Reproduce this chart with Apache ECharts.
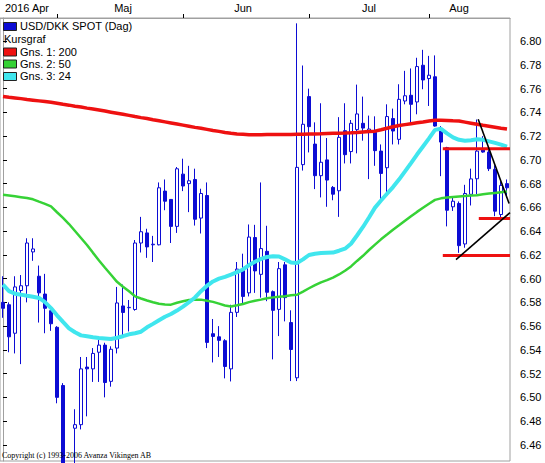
<!DOCTYPE html>
<html><head><meta charset="utf-8">
<script src="https://cdn.jsdelivr.net/npm/echarts@6/dist/echarts.min.js"></script>
<style>html,body{margin:0;padding:0;background:#fff}#c{width:545px;height:463px}</style>
</head><body><div id="c"></div>
<script>
// Trading days shown (category axis)
const categories = [
 '2016-04-19','2016-04-20','2016-04-21','2016-04-22','2016-04-25','2016-04-26','2016-04-27','2016-04-28','2016-04-29',
 '2016-05-02','2016-05-03','2016-05-04','2016-05-06','2016-05-09','2016-05-10','2016-05-11','2016-05-12','2016-05-13',
 '2016-05-16','2016-05-17','2016-05-18','2016-05-19','2016-05-20','2016-05-23','2016-05-24','2016-05-25','2016-05-26',
 '2016-05-27','2016-05-30','2016-05-31',
 '2016-06-01','2016-06-02','2016-06-03','2016-06-07','2016-06-08','2016-06-09','2016-06-10','2016-06-13','2016-06-14',
 '2016-06-15','2016-06-16','2016-06-17','2016-06-20','2016-06-21','2016-06-22','2016-06-23','2016-06-24','2016-06-27',
 '2016-06-28','2016-06-29','2016-06-30',
 '2016-07-04','2016-07-05','2016-07-06','2016-07-07','2016-07-08','2016-07-11','2016-07-12','2016-07-13','2016-07-14',
 '2016-07-15','2016-07-18','2016-07-19','2016-07-20','2016-07-21','2016-07-22','2016-07-25','2016-07-26','2016-07-27',
 '2016-07-28','2016-07-29',
 '2016-08-01','2016-08-02','2016-08-03','2016-08-04','2016-08-05','2016-08-08','2016-08-09','2016-08-10','2016-08-11',
 '2016-08-12','2016-08-15','2016-08-16','2016-08-17','2016-08-18'
];
const openVals = [6.580,6.578,6.554,6.590,6.594,6.6225,6.602,6.587,6.573,6.559,
 6.510,6.436,6.474,6.477,6.5255,6.524,6.538,6.544,6.5135,6.5415,
 6.577,6.5755,6.574,6.630,6.6385,6.6285,6.6285,6.6737,6.6667,6.644,
 6.688,6.680,6.6835,6.651,6.670,6.5536,6.551,6.5477,6.524,6.5716,
 6.6068,6.588,6.6346,6.6036,6.623,6.589,6.5741,6.6116,6.563,6.5165,
 6.696,6.7533,6.7133,6.6867,6.700,6.6768,6.674,6.7246,6.707,6.7255,
 6.7308,6.7246,6.7232,6.7074,6.6934,6.7348,6.7173,6.7496,6.7544,6.7488,
 6.7797,6.7685,6.770,6.7243,6.7103,6.6605,6.6633,6.6292,6.671,6.6841,
 6.7094,6.7066,6.692,6.654,6.680];
const closeVals = [6.575,6.551,6.593,6.594,6.630,6.625,6.588,6.575,6.562,6.500,
 6.440,6.430,6.477,6.524,6.524,6.537,6.544,6.5125,6.5405,6.5795,
 6.5715,6.5758,6.630,6.6395,6.6267,6.629,6.6765,6.6652,6.644,6.6925,
 6.678,6.6824,6.650,6.6717,6.5463,6.5513,6.548,6.526,6.5716,6.608,
 6.585,6.635,6.6065,6.6253,6.5885,6.5733,6.6084,6.584,6.5403,6.6937,
 6.730,6.728,6.6867,6.698,6.683,6.6711,6.719,6.7044,6.7308,6.7387,
 6.7268,6.726,6.7078,6.6886,6.7365,6.7243,6.751,6.754,6.7468,6.7786,
 6.7673,6.7713,6.7285,6.715,6.6576,6.6652,6.6278,6.6717,6.684,6.7074,
 6.7066,6.6926,6.6568,6.6785,6.6765];
const lowVals = [6.567,6.538,6.537,6.528,6.580,6.615,6.563,6.554,6.556,6.495,
 6.435,6.420,6.430,6.473,6.484,6.513,6.513,6.500,6.509,6.537,
 6.550,6.5555,6.573,6.622,6.6175,6.614,6.628,6.6576,6.630,6.6385,
 6.6737,6.656,6.6447,6.638,6.5415,6.5294,6.534,6.516,6.5134,6.5677,
 6.5795,6.585,6.588,6.584,6.581,6.532,6.5516,6.564,6.5137,6.5137,
 6.691,6.7063,6.6754,6.6684,6.6605,6.666,6.652,6.697,6.697,6.7055,
 6.7162,6.6838,6.695,6.6652,6.671,6.713,6.713,6.7468,6.730,6.7384,
 6.7595,6.7454,6.728,6.6863,6.644,6.657,6.6217,6.626,6.6616,6.671,
 6.706,6.6906,6.6526,6.650,6.668];
const highVals = [6.602,6.580,6.602,6.603,6.634,6.634,6.611,6.604,6.574,6.560,
 6.512,6.440,6.490,6.534,6.534,6.5415,6.5485,6.546,6.543,6.593,
 6.595,6.582,6.6325,6.652,6.642,6.636,6.681,6.6835,6.667,6.694,
 6.701,6.695,6.6926,6.6757,6.681,6.566,6.560,6.549,6.578,6.614,
 6.621,6.6456,6.6453,6.681,6.6445,6.590,6.614,6.614,6.5733,6.815,
 6.7795,6.760,6.7316,6.7477,6.7184,6.678,6.736,6.7477,6.7336,6.7634,
 6.7533,6.7373,6.7367,6.713,6.7468,6.7432,6.7637,6.775,6.777,6.786,
 6.7927,6.7876,6.788,6.7285,6.711,6.668,6.665,6.679,6.6926,6.734,
 6.720,6.709,6.6954,6.682,6.6835];
// Moving averages
const ma200 = [6.7533,6.7527,6.7522,6.7516,6.7509,6.7503,6.7497,6.7491,6.7485,
 6.7477,6.7468,6.7461,6.7452,6.7445,6.7436,6.7428,6.7420,6.7411,6.7402,
 6.7393,6.7384,6.7375,6.7365,6.7356,6.7348,6.7338,6.7329,6.7320,6.7311,
 6.7302,6.7293,6.7284,6.7274,6.7266,6.7257,6.7248,6.7240,6.7231,6.7224,
 6.7219,6.7216,6.7212,6.7211,6.7212,6.7213,6.7213,6.7214,6.7214,6.7214,
 6.7215,6.7216,6.7218,6.7219,6.7220,6.7222,6.7224,6.7225,6.7226,6.7228,
 6.7231,6.7235,6.7239,6.7242,6.7254,6.7267,6.7279,6.7289,6.7297,6.7305,
 6.7312,6.7319,6.7327,6.7334,6.7333,6.7332,6.7329,6.7327,6.7318,6.7309,
 6.7300,6.7291,6.7283,6.7275,6.7267,6.7260];
const ma50 = [6.6706,6.6700,6.6693,6.6686,6.6679,6.6668,6.6648,6.6629,6.6608,
 6.6559,6.6511,6.6460,6.6401,6.6342,6.6283,6.6217,6.6153,6.6092,6.6033,
 6.5973,6.5931,6.5893,6.5851,6.5833,6.5816,6.5801,6.5788,6.5783,6.5781,
 6.5797,6.5810,6.5820,6.5823,6.5823,6.5814,6.5804,6.5789,6.5774,6.5765,
 6.5775,6.5786,6.5802,6.5814,6.5823,6.5834,6.5842,6.5848,6.5851,6.5860,
 6.5864,6.5891,6.5919,6.5945,6.5969,6.5987,6.6008,6.6035,6.6066,6.6103,
 6.6149,6.6192,6.6241,6.6286,6.6331,6.6371,6.6412,6.6449,6.6487,6.6525,
 6.6562,6.6597,6.6631,6.6663,6.6676,6.6684,6.6688,6.6692,6.6696,6.6700,
 6.6703,6.6710,6.6716,6.6722,6.6728,6.6734];
const ma24 = [6.5949,6.5895,6.5873,6.5865,6.5856,6.5848,6.5837,6.5802,6.5752,
 6.5691,6.5635,6.5581,6.5548,6.5522,6.5514,6.5506,6.5500,6.5496,6.5492,
 6.5502,6.5515,6.5531,6.5540,6.5553,6.5590,6.5619,6.5650,6.5679,6.5702,
 6.5731,6.5764,6.5801,6.5841,6.5894,6.5940,6.5976,6.6000,6.6015,6.6034,
 6.6055,6.6077,6.6114,6.6142,6.6166,6.6182,6.6189,6.6186,6.6162,6.6135,
 6.6132,6.6162,6.6199,6.6210,6.6215,6.6217,6.6219,6.6235,6.6252,6.6294,
 6.6363,6.6435,6.6515,6.6598,6.6658,6.6715,6.6771,6.6834,6.6903,6.6973,
 6.7045,6.7113,6.7181,6.7253,6.7262,6.7224,6.7190,6.7169,6.7162,6.7165,
 6.7173,6.7169,6.7156,6.7143,6.7129,6.7112];
// Hand-drawn levels (x in candle index units, y in price)
const redLevels = [
 {from: 73.3, to: 84.5, price: 6.7094},
 {from: 79.3, to: 84.5, price: 6.6506},
 {from: 73.3, to: 84.5, price: 6.6194}
];
const blackTrendLines = [
 [[79.2, 6.7342], [84.35, 6.6633]],
 [[75.5, 6.6160], [84.5, 6.6555]]
];
// Month tick labels (candle index -> text)
const monthLabels = {4: '2016 Apr', 20: 'Maj', 40: 'Jun', 61: 'Jul', 76: 'Aug'};
const legendItems = ['USD/DKK SPOT (Dag)', 'Kursgraf', 'Gns. 1: 200', 'Gns. 2: 50', 'Gns. 3: 24'];

const BLUE = '#0c0cd4', RED = '#ee1111', GREEN = '#36d236', CYAN = '#40e6ee';
const SANS = '"Liberation Sans", Arial, sans-serif';

const monthStarts = [];
for (let i = 1; i < categories.length; i++) {
  if (categories[i].slice(5, 7) !== categories[i - 1].slice(5, 7)) monthStarts.push(i);
}

const candleData = openVals.map((o, i) => [o, closeVals[i], lowVals[i], highVals[i]]);

const series = [{
  type: 'candlestick', name: legendItems[0], data: candleData, barWidth: 4, clip: true, z: 2,
  itemStyle: {color: '#ffffff', color0: BLUE, borderColor: BLUE, borderColor0: BLUE, borderWidth: 1}
}];
[[ma200, RED, 3.5], [ma50, GREEN, 2.5], [ma24, CYAN, 4]].forEach(([d, c, w], k) => {
  series.push({type: 'line', name: legendItems[2 + k], data: d, symbol: 'none', clip: true,
    lineStyle: {color: c, width: w}, z: 3 + k, silent: true});
});
redLevels.forEach(l => series.push({type: 'line', xAxisIndex: 1, data: [[l.from, l.price], [l.to, l.price]],
  symbol: 'none', lineStyle: {color: RED, width: 3}, z: 7, silent: true}));
blackTrendLines.forEach(seg => series.push({type: 'line', xAxisIndex: 1, data: seg,
  symbol: 'none', lineStyle: {color: '#000', width: 1.6}, z: 8, silent: true}));

const legendColors = [BLUE, null, RED, GREEN, CYAN];
const rowY = [26, 39, 51.5, 63.5, 76];
const graphic = [];
legendItems.forEach((t, i) => {
  if (legendColors[i]) {
    graphic.push({type: 'rect', left: 3, top: rowY[i] - 4, shape: {x: 0, y: 0, width: 13, height: 8},
      style: {fill: legendColors[i], stroke: '#222', lineWidth: 1}, z: 100});
  }
  graphic.push({type: 'text', x: legendColors[i] ? 20 : 4, y: rowY[i],
    style: {text: t, fill: '#000', font: '11px ' + SANS, verticalAlign: 'middle'}, z: 100});
});
graphic.push({type: 'text', x: 2, y: 455,
  style: {text: 'Copyright (c) 1993-2006 Avanza Vikingen AB', fill: '#000', font: '8px "Liberation Serif", "Times New Roman", serif', verticalAlign: 'middle'}, z: 100});

const chart = echarts.init(document.getElementById('c'), null, {renderer: 'svg'});
chart.setOption({
  animation: false,
  backgroundColor: '#ffffff',
  grid: {left: 0, right: 35, top: 18, bottom: 2, show: true, borderColor: '#a0a0a0', borderWidth: 1},
  xAxis: [{
    type: 'category', data: categories, position: 'top', boundaryGap: true,
    axisLine: {show: true, lineStyle: {color: '#a0a0a0'}},
    axisTick: {show: true, alignWithLabel: true, length: 4, lineStyle: {color: '#000'},
      interval: (i) => monthStarts.indexOf(i) >= 0},
    axisLabel: {show: true, interval: (i) => monthLabels[i] !== undefined,
      formatter: (v, i) => monthLabels[i] || '', color: '#000', fontSize: 11, fontFamily: SANS, margin: 5},
    splitLine: {show: false}
  }, {
    type: 'value', min: -0.5, max: categories.length - 0.5, show: false
  }],
  yAxis: {
    type: 'value', position: 'right', min: 6.4464, max: 6.8195, splitNumber: 18,
    minInterval: 0.02, maxInterval: 0.02,
    axisLine: {show: true, lineStyle: {color: '#a0a0a0'}},
    axisTick: {show: true, length: 4, lineStyle: {color: '#000'}},
    axisLabel: {color: '#000', fontSize: 11, fontFamily: SANS, margin: 10, showMinLabel: false, showMaxLabel: false,
      formatter: (v) => { const k = Math.round(v * 50); return Math.abs(v * 50 - k) < 1e-4 ? (k / 50).toFixed(2) : ''; }},
    splitLine: {show: false}
  },
  series: series,
  graphic: graphic
});
</script></body></html>
